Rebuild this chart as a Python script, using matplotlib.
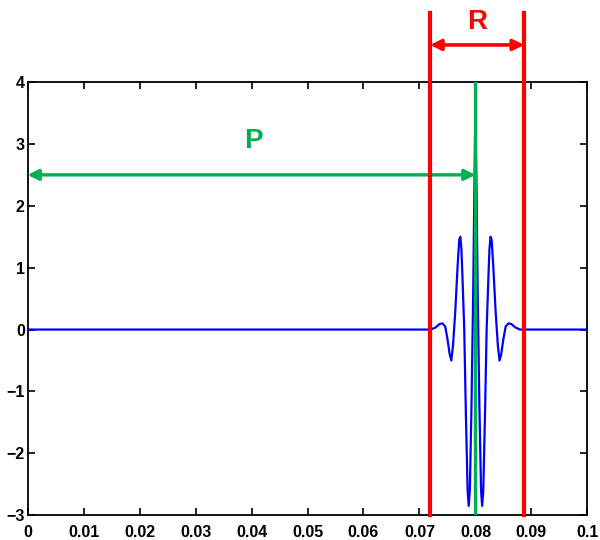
import matplotlib
matplotlib.use("Agg")
import numpy as np
import matplotlib.pyplot as plt

# Waveform (x in s, y amplitude)
signal_x = [0.0, 0.0720, 0.0728, 0.0736, 0.0741, 0.0746, 0.0750, 0.0754,
            0.0757, 0.0760, 0.0764, 0.0768, 0.0771, 0.0773, 0.0775, 0.0777,
            0.0780, 0.0783, 0.0786, 0.0788, 0.0790, 0.0793, 0.0796, 0.0798,
            0.0800,
            0.0802, 0.0804, 0.0807, 0.0810, 0.0812, 0.0814, 0.0817, 0.0820,
            0.0823, 0.0825, 0.0827, 0.0829, 0.0832, 0.0836, 0.0840, 0.0843,
            0.0846, 0.0850, 0.0854, 0.0859, 0.0864, 0.0872, 0.0880, 0.1]
signal_y = [0.0, 0.0, 0.03, 0.09, 0.10, 0.05, -0.15, -0.40,
            -0.50, -0.25, 0.30, 1.00, 1.45, 1.50, 1.30, 0.80,
            0.0, -1.40, -2.60, -2.85, -2.60, -1.20, 0.60, 2.20,
            3.55,
            2.20, 0.60, -1.20, -2.60, -2.85, -2.60, -1.40, 0.0,
            0.80, 1.30, 1.50, 1.45, 1.00, 0.30, -0.25, -0.50,
            -0.40, -0.15, 0.05, 0.10, 0.09, 0.03, 0.0, 0.0]

# Markers
r_left, r_right = 0.0719, 0.0887
p_pos = 0.08
p_arrow_y = 2.5
xticks = [0, 0.01, 0.02, 0.03, 0.04, 0.05, 0.06, 0.07, 0.08, 0.09, 0.1]
xtick_labels = ["0", "0.01", "0.02", "0.03", "0.04", "0.05", "0.06", "0.07", "0.08", "0.09", "0.1"]
yticks = [-3, -2, -1, 0, 1, 2, 3, 4]

RED = "#ff0000"
GREEN = "#00b050"
BLUE = "#0000ff"

plt.rcParams["font.family"] = ["Liberation Sans", "DejaVu Sans"]

fig = plt.figure(figsize=(6, 5.4), dpi=100)
ax = fig.add_axes([0.046, 0.046, 0.933, 0.802])

ax.plot(signal_x, signal_y, color=BLUE, lw=1.6, zorder=3)

# green P marker line and arrow
ax.plot([p_pos, p_pos], [-3, 4], color=GREEN, lw=2.4, zorder=4)
ax.annotate("", xy=(p_pos, p_arrow_y), xytext=(0, p_arrow_y),
            arrowprops=dict(arrowstyle="<|-|>", color=GREEN, lw=2.4,
                            mutation_scale=16, shrinkA=0, shrinkB=0),
            zorder=5)
ax.text(0.0404, 3.05, "P", color=GREEN, fontsize=20, fontweight="bold",
        ha="center", va="center")

# red R window
for xr in (r_left, r_right):
    ax.plot([xr, xr], [-3, 5.12], color=RED, lw=3, clip_on=False, zorder=6)
ax.annotate("", xy=(r_right, 4.6), xytext=(r_left, 4.6),
            arrowprops=dict(arrowstyle="<|-|>", color=RED, lw=2.6,
                            mutation_scale=16, shrinkA=0, shrinkB=0),
            annotation_clip=False, zorder=6)
ax.text((r_left + r_right) / 2, 4.97, "R", color=RED, fontsize=20,
        fontweight="bold", ha="center", va="center")

ax.set_xlim(0, 0.1)
ax.set_ylim(-3, 4)
ax.set_xticks(xticks)
ax.set_xticklabels(xtick_labels)
ax.set_yticks(yticks)
ax.tick_params(direction="in", top=True, right=True, length=5, width=1.2,
               labelsize=11.5)
ax.tick_params(axis="x", pad=7)
ax.tick_params(axis="y", pad=2)
for lab in ax.get_xticklabels() + ax.get_yticklabels():
    lab.set_fontweight("bold")
for sp in ax.spines.values():
    sp.set_linewidth(1.3)

fig.savefig("out.png", dpi=100)
